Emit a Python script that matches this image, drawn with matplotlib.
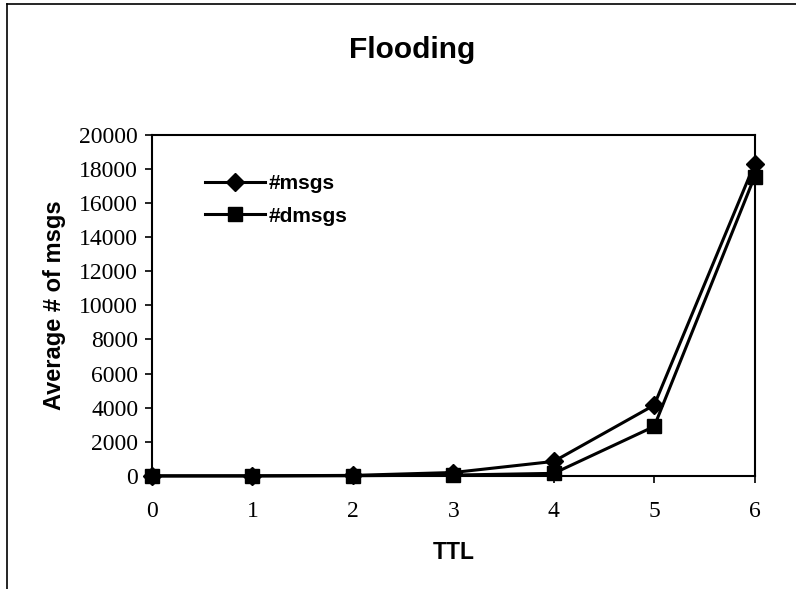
import matplotlib.pyplot as plt
from matplotlib.lines import Line2D

# TTL values and average message counts
ttl = [0, 1, 2, 3, 4, 5, 6]
msgs = [0, 5, 30, 200, 850, 4150, 18300]
dmsgs = [0, 0, 10, 50, 150, 2900, 17550]

fig = plt.figure(figsize=(7.96, 5.89), dpi=100)
ax = fig.add_axes([0.191, 0.192, 0.757, 0.579])

ax.plot(ttl, msgs, color='black', lw=2.2, marker='D', ms=9, label='#msgs', clip_on=False)
ax.plot(ttl, dmsgs, color='black', lw=2.2, marker='s', ms=10, label='#dmsgs', clip_on=False)

ax.set_xlim(0, 6)
ax.set_ylim(0, 20000)
ax.set_yticks(range(0, 20001, 2000))
ax.set_xticks(ttl)
for lab in ax.get_xticklabels() + ax.get_yticklabels():
    lab.set_family('Liberation Serif')
    lab.set_fontsize(17)
ax.tick_params(direction='out', length=5, width=1.2)
ax.tick_params(axis='y', pad=5)
ax.tick_params(axis='x', pad=13)
for s in ax.spines.values():
    s.set_linewidth(1.5)

ax.set_xlabel('TTL', family='Liberation Sans', fontsize=16.5, fontweight='bold')
ax.set_ylabel('Average # of msgs', family='Liberation Sans', fontsize=17, fontweight='bold')
ax.xaxis.set_label_coords(0.5, -0.19)
ax.yaxis.set_label_coords(-0.143, 0.5)
fig.text(0.518, 0.9015, 'Flooding', family='Liberation Sans', fontsize=21.5,
         fontweight='bold', ha='center', va='baseline')

ax.legend(loc='upper left', bbox_to_anchor=(0.088, 0.885), frameon=False,
          borderaxespad=0, borderpad=0,
          prop={'family': 'Liberation Sans', 'size': 15, 'weight': 'bold'},
          handlelength=2.9, handletextpad=0.15, labelspacing=0.65)

# outer frame: only the left and top edges show in the scan
fig.lines.append(Line2D([0.009, 0.009], [0.0, 0.993], transform=fig.transFigure,
                        color='black', lw=1.2))
fig.lines.append(Line2D([0.009, 1.0], [0.993, 0.993], transform=fig.transFigure,
                        color='black', lw=1.2))

fig.savefig('out.png', dpi=100)
